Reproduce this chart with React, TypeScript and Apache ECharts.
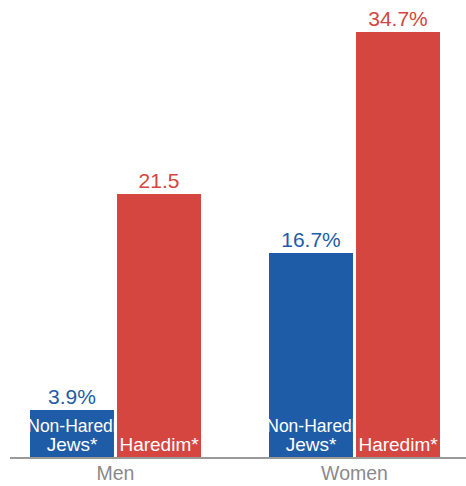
import React, { useEffect, useRef } from "react";
import * as echarts from "echarts";

const categories = ["Men", "Women"];
const nonHarediValues = [3.9, 16.7];
const harediValues = [21.5, 34.7];
const nonHarediLabels = ["3.9%", "16.7%"];
const harediLabels = ["21.5", "34.7%"];
const seriesNames = ["Non-Haredi\nJews*", "Haredim*"];
const innerRich = ["{n|Non-Haredi}\nJews*", "Haredim*"];

const BLUE = "#1f5ca8";
const RED = "#d54641";
const FONT = "Liberation Sans, Arial, sans-serif";

export default function App() {
  const ref = useRef<HTMLDivElement>(null);
  useEffect(() => {
    if (!ref.current) return;
    document.body.style.margin = "0";
    const chart = echarts.init(ref.current, undefined, { renderer: "svg" });
    const mkBar = (stack: string, name: string, text: string, values: number[], color: string) => ({
      type: "bar",
      name,
      stack,
      data: values,
      barWidth: 84,
      barGap: "3.6%",
      itemStyle: { color },
      label: {
        show: true,
        position: "insideBottom",
        distance: 4,
        color: "#ffffff",
        fontSize: 19,
        lineHeight: 18.5,
        fontFamily: FONT,
        formatter: () => text,
        rich: {
          n: { fontSize: 17.5, lineHeight: 18.5, color: "#ffffff", fontFamily: FONT },
        },
      },
    });
    const mkTop = (stack: string, labels: string[], color: string) => ({
      type: "bar",
      name: stack + "_top",
      stack,
      data: labels.map(() => 0),
      barWidth: 84,
      barGap: "3.6%",
      itemStyle: { color },
      label: {
        show: true,
        position: "top",
        distance: 3,
        color,
        fontSize: 21,
        fontFamily: FONT,
        formatter: (p: any) => labels[p.dataIndex],
      },
    });
    chart.setOption({
      animation: false,
      grid: { left: 0, right: 0, top: 16, bottom: 28, containLabel: false },
      xAxis: {
        type: "category",
        data: categories,
        axisLine: { show: false },
        axisTick: { show: false },
        axisLabel: { color: "#8a8a8a", fontSize: 19.5, fontFamily: FONT, margin: 5 },
      },
      yAxis: {
        type: "value",
        min: 0,
        max: 36,
        show: false,
        splitLine: { show: false },
      },
      series: [
        mkBar("a", seriesNames[0], innerRich[0], nonHarediValues, BLUE),
        mkTop("a", nonHarediLabels, BLUE),
        mkBar("b", seriesNames[1], innerRich[1], harediValues, RED),
        mkTop("b", harediLabels, RED),
      ],
      graphic: [
        {
          type: "line",
          shape: { x1: 14, y1: 458, x2: 474, y2: 458 },
          style: { stroke: "#9a9a9a", lineWidth: 2 },
          z: 10,
        },
      ],
    });
    return () => chart.dispose();
  }, []);
  return (
    <div style={{ width: 466, height: 486, overflow: "hidden", position: "relative" }}>
      <div ref={ref} style={{ position: "absolute", left: -4, top: 0, width: 478, height: 486 }} />
    </div>
  );
}
